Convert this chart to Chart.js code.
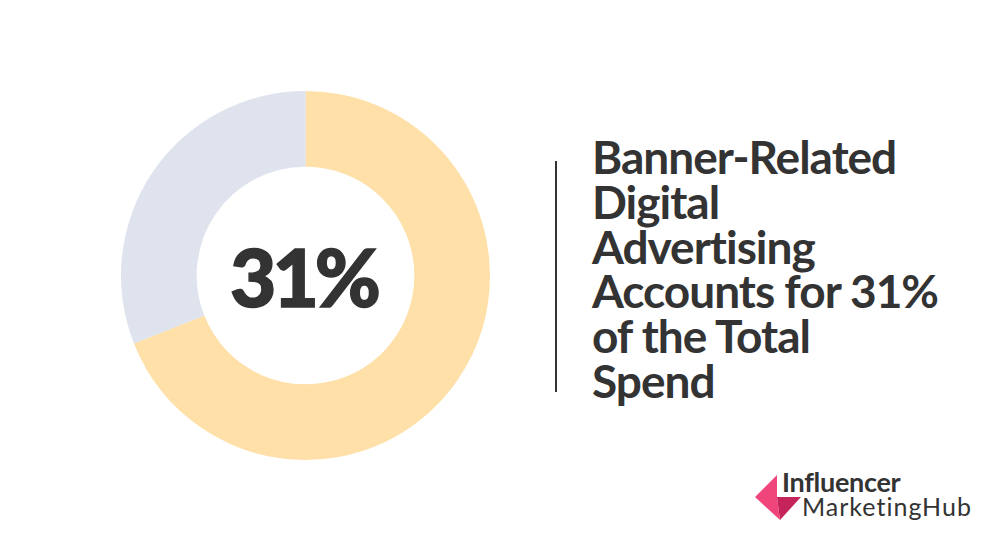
<!DOCTYPE html>
<html>
<head>
<meta charset="utf-8">
<script src="https://cdn.jsdelivr.net/npm/chart.js@4"></script>
<style>
  html, body { margin: 0; padding: 0; background: #ffffff; }
  #stage { position: relative; width: 1000px; height: 552px; overflow: hidden; background: #fff; font-family: "Lato", "Open Sans", sans-serif; color: #333333; }
  #chartBox { position: absolute; left: 121px; top: 91px; width: 369px; height: 369px; }
  #center { position: absolute; left: 121px; top: 91px; width: 369px; height: 369px; display: flex; align-items: center; justify-content: center; font-weight: 900; font-size: 80px; letter-spacing: -4px; color: #333; padding-right: 4px; box-sizing: border-box; -webkit-text-stroke: 1.5px #333; }
  #rule { position: absolute; left: 555px; top: 161px; width: 2px; height: 231px; background: #333; }
  #title { position: absolute; left: 592px; top: 135px; font-weight: 700; font-size: 46px; line-height: 44.8px; color: #333; letter-spacing: -1px; }
  #logoText1 { position: absolute; left: 782px; top: 465px; font-weight: 700; font-size: 27px; color: #333; letter-spacing: -0.3px; }
  #logoText2 { position: absolute; left: 802px; top: 491px; font-weight: 400; font-size: 25px; color: #333; letter-spacing: 1.0px; }
  #logo { position: absolute; left: 750px; top: 470px; }
</style>
</head>
<body>
<div id="stage">
  <div id="chartBox"><canvas id="c"></canvas></div>
  <div id="center">31%</div>
  <div id="rule"></div>
  <div id="title">Banner-Related<br>Digital<br>Advertising<br>Accounts for 31%<br>of the Total<br>Spend</div>
  <svg id="logo" width="60" height="60" viewBox="750 470 60 60">
    <polygon points="777,475 755,497 780,520 777,497" fill="#F0457A"/>
    <polygon points="777,497 801,497 780,520" fill="#C4245A"/>
  </svg>
  <div id="logoText1">Influencer</div>
  <div id="logoText2">MarketingHub</div>
</div>
<script>
const categories = ["Other digital advertising", "Banner-related digital advertising"];
const values = [69, 31];
const colors = ["#FEE0A8", "#DFE3EE"];

new Chart(document.getElementById('c'), {
  type: 'doughnut',
  data: {
    labels: categories,
    datasets: [{
      data: values,
      backgroundColor: colors,
      borderWidth: 0,
      hoverOffset: 0
    }]
  },
  options: {
    responsive: true,
    maintainAspectRatio: false,
    animation: false,
    cutout: '59%',
    layout: { padding: 0 },
    plugins: { legend: { display: false }, tooltip: { enabled: false } }
  }
});
</script>
</body>
</html>
